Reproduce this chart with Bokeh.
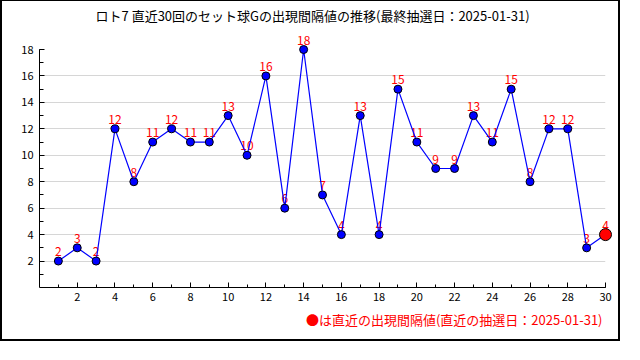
from bokeh.plotting import figure
from bokeh.models import ColumnDataSource, FixedTicker, Range1d, Title
from bokeh.embed import file_html
from bokeh.resources import INLINE
from bokeh.core.properties import value

draws = list(range(1, 31))
intervals = [2, 3, 2, 12, 8, 11, 12, 11, 11, 13, 10, 16, 6, 18, 7, 4, 13, 4, 15, 11,
             9, 9, 13, 11, 15, 8, 12, 12, 3, 4]
x_ticks = list(range(2, 31, 2))
x_minor = list(range(1, 31))
y_ticks = list(range(2, 19, 2))
y_minor = list(range(1, 19))
title_text = "ロト7 直近30回のセット球Gの出現間隔値の推移(最終抽選日：2025-01-31)"
note_text = "●は直近の出現間隔値(直近の抽選日：2025-01-31)"

FONT = "Noto Sans CJK JP"
W, H = 620, 341
ML, MR, MT, MB = 37, 17, 48, 55

p = figure(width=W, height=H, output_backend="svg", toolbar_location=None,
           x_range=Range1d(0, 30), y_range=Range1d(0, 18),
           min_border_left=ML, min_border_right=MR, min_border_top=MT, min_border_bottom=MB)
p.styles = {"border-top": "1px solid black", "border-left": "2px solid black",
            "border-right": "2px solid black", "border-bottom": "2px solid black"}
p.outline_line_color = None
p.background_fill_color = "white"
p.border_fill_color = "white"
p.title.text = ""

spacer = Title(text=" ", text_font=FONT, text_font_size="10px", standoff=8)
p.add_layout(spacer, "above")
main_title = Title(text=title_text, align="left", offset=56, standoff=0,
                   text_font=FONT, text_font_size="13px", text_font_style="normal",
                   text_color="black")
p.add_layout(main_title, "above")

note = Title(text=note_text, align="right", text_font=FONT, text_font_size="13px",
             text_font_style="normal", text_color="#ff0000", standoff=9, offset=3)
p.add_layout(note, "below")

p.xgrid.grid_line_color = None
p.ygrid.grid_line_color = "#d6d6d6"
p.ygrid.grid_line_width = 1

p.xaxis.ticker = FixedTicker(ticks=x_ticks, minor_ticks=x_minor)
p.yaxis.ticker = FixedTicker(ticks=y_ticks, minor_ticks=y_minor)
for ax in (p.xaxis[0], p.yaxis[0]):
    ax.axis_line_color = "black"
    ax.major_tick_line_color = "black"
    ax.minor_tick_line_color = "black"
    ax.major_tick_out = 0
    ax.minor_tick_out = 0
    ax.major_label_text_font = FONT
    ax.major_label_text_font_size = "11px"
    ax.major_label_text_color = "black"
p.xaxis.major_tick_in = 5
p.xaxis.minor_tick_in = 3
p.yaxis.major_tick_in = 5
p.yaxis.minor_tick_in = 4
p.xaxis.major_label_standoff = 5
p.yaxis.major_label_standoff = 6

labels = [str(v) for v in intervals]
src = ColumnDataSource(dict(x=draws, y=intervals, label=labels))
last = ColumnDataSource(dict(x=draws[-1:], y=intervals[-1:]))

tx = p.text("x", "y", text="label", source=src, text_align="center",
            text_baseline="bottom", y_offset=-5, text_color="#ff0000",
            text_font=value(FONT), text_font_size="12px")
tx.level = "overlay"
ln = p.line("x", "y", source=src, line_color="#0000ff", line_width=1.2)
ln.level = "overlay"
pts = p.scatter("x", "y", source=src, size=8, fill_color="#0000ff", line_color="black", line_width=1)
pts.level = "overlay"
r = p.scatter("x", "y", source=last, size=12, fill_color="#ff0000", line_color="black", line_width=1)
r.level = "overlay"

open("out.html", "w").write(file_html(p, INLINE))
